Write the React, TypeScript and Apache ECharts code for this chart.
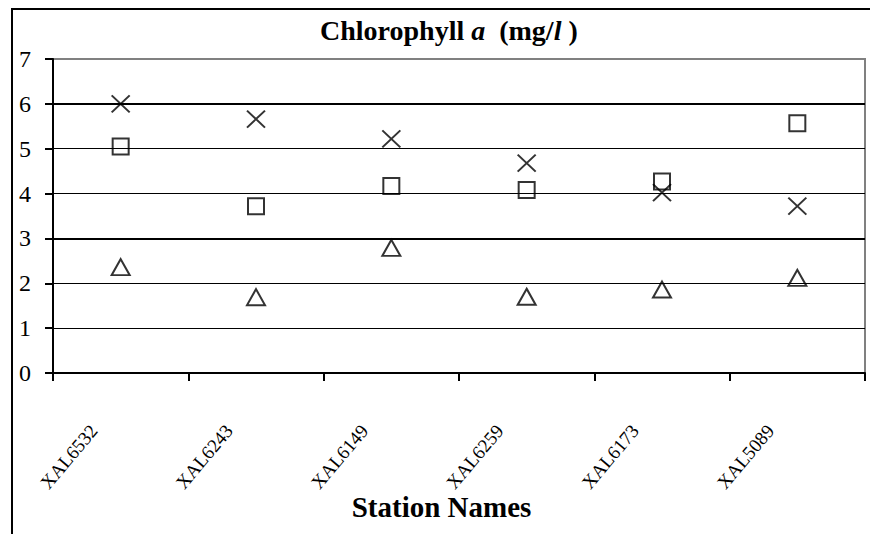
import React, { useEffect, useRef } from "react";
import * as echarts from "echarts";

const stations = ["XAL6532", "XAL6243", "XAL6149", "XAL6259", "XAL6173", "XAL5089"];
const crossValues = [6.0, 5.66, 5.22, 4.68, 4.02, 3.72];
const squareValues = [5.05, 3.72, 4.17, 4.08, 4.27, 5.57];
const triangleValues = [2.36, 1.69, 2.79, 1.7, 1.86, 2.12];
const yTicks = [0, 1, 2, 3, 4, 5, 6, 7];
const heavyGridValues = [3, 6];

const FONT = "Liberation Serif";

export default function App() {
  const ref = useRef<HTMLDivElement>(null);
  useEffect(() => {
    if (!ref.current) return;
    const chart = echarts.init(ref.current, null, { renderer: "svg" });
    const markerStyle = { color: "none", borderColor: "#000", borderWidth: 2 };
    chart.setOption({
      animation: false,
      backgroundColor: "#fff",
      title: {
        text: "{b|Chlorophyll }{bi|a}{b|  (mg/}{bi|l}{b| )}",
        left: 315,
        top: 11,
        textStyle: {
          rich: {
            b: { fontFamily: FONT, fontWeight: "bold", fontSize: 28, color: "#000" },
            bi: { fontFamily: FONT, fontWeight: "bold", fontStyle: "italic", fontSize: 28, color: "#000" },
          },
        },
      },
      graphic: [
        { type: "line", shape: { x1: 12, y1: 9, x2: 870, y2: 9 }, style: { stroke: "#000", lineWidth: 2 } },
        { type: "line", shape: { x1: 12, y1: 8, x2: 12, y2: 534 }, style: { stroke: "#000", lineWidth: 2 } },
      ],
      grid: {
        left: 53,
        right: 5,
        top: 59,
        bottom: 161,
        show: true,
        borderColor: "#808080",
        borderWidth: 2,
        backgroundColor: "transparent",
        outerBoundsMode: "none",
        containLabel: false,
      },
      xAxis: {
        type: "category",
        data: stations,
        boundaryGap: true,
        axisLine: { lineStyle: { color: "#000", width: 2 } },
        axisTick: { show: true, length: 8, lineStyle: { color: "#000", width: 2 }, alignWithLabel: false },
        axisLabel: {
          rotate: 50,
          interval: 0,
          margin: 22,
          padding: [0, 42, 0, 0],
          fontFamily: FONT,
          fontSize: 19,
          color: "#000",
        },
        name: "Station Names",
        nameLocation: "middle",
        nameGap: 119,
        nameMoveOverlap: false,
        nameTextStyle: { fontFamily: FONT, fontWeight: "bold", fontSize: 29, color: "#000", padding: [0, 35, 0, 0] },
        splitLine: { show: false },
      },
      yAxis: {
        type: "value",
        min: yTicks[0],
        max: yTicks[yTicks.length - 1],
        interval: 1,
        axisLine: { show: true, lineStyle: { color: "#000", width: 2 } },
        axisTick: { show: true, length: 8, lineStyle: { color: "#000", width: 2 } },
        axisLabel: {
          margin: 22,
          align: "right",
          verticalAlign: "middle",
          fontFamily: FONT,
          fontSize: 24,
          color: "#000",
        },
        splitLine: { show: true, showMaxLine: false, lineStyle: { color: "#000", width: 1 } },
      },
      series: [
        {
          type: "scatter",
          name: "cross",
          data: crossValues,
          symbol: "path://M0,0L10,10M10,0L0,10",
          symbolSize: [18, 17],
          itemStyle: markerStyle,
          markLine: {
            silent: true,
            symbol: "none",
            label: { show: false },
            lineStyle: { color: "#000", width: 2, type: "solid" },
            data: heavyGridValues.map((v) => ({ yAxis: v })),
          },
        },
        {
          type: "scatter",
          name: "square",
          data: squareValues,
          symbol: "rect",
          symbolSize: 16,
          itemStyle: markerStyle,
        },
        {
          type: "scatter",
          name: "triangle",
          data: triangleValues,
          symbol: "triangle",
          symbolSize: [18, 16],
          itemStyle: markerStyle,
        },
      ],
    });
    return () => chart.dispose();
  }, []);
  return <div ref={ref} style={{ width: 870, height: 534, position: "absolute", left: 0, top: 0 }} />;
}
